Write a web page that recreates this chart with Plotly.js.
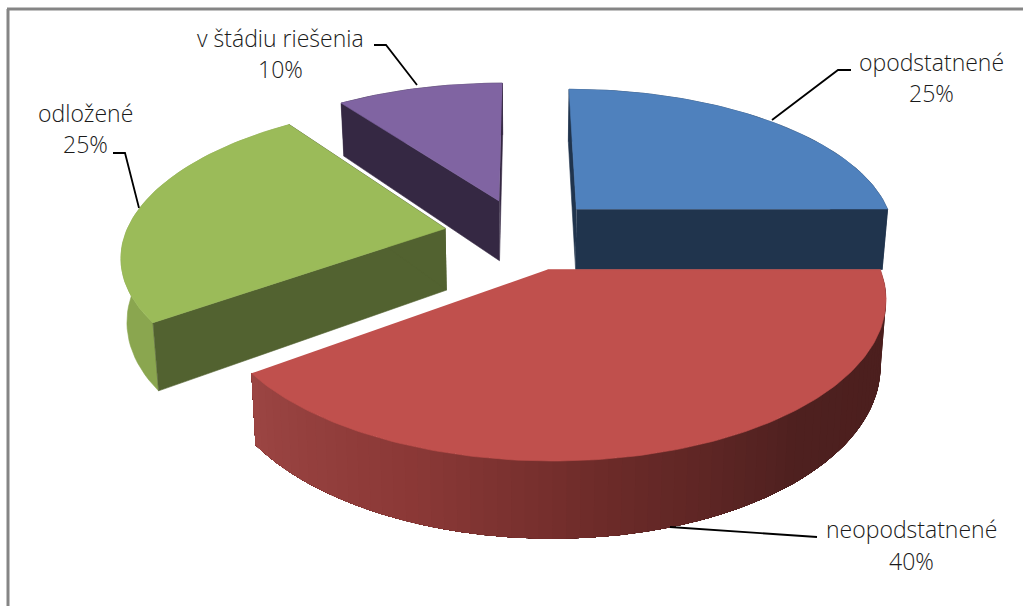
<!DOCTYPE html>
<html><head><meta charset="utf-8">
<script src="https://cdn.plot.ly/plotly-3.0.1.min.js"></script>
<style>html,body{margin:0;padding:0;background:#fff;overflow:hidden}#c{width:1023px;height:606px}</style>
</head><body><div id="c"></div><script>
const categories = ["opodstatnené","neopodstatnené","odložené","v štádiu riešenia"];
const values = [25,40,25,10];
const topColors = ["#4F81BD","#C0504D","#9BBB59","#8064A2"];
const cutColors = ["#20344D","#4E1F1E","#526230","#352843"];
const wallColors = ["#20344D",null,"#8AA64F","#352843"];
const redWallStops = [[234,[156,69,67]],[200,[138,56,54]],[170,[106,42,40]],[140,[78,32,31]],[90,[74,30,29]]];
const drawOrder = [3,2,0,1];

// perspective model of the tilted pie
const X0=522.5,Y0=234,A=320,B=147,P=0.1635,EX=0.245,D=62,K=0.015;
const rad=d=>d*Math.PI/180;
function proj(u,v,low){
  const s=1/(1+P*v);
  const k=low?1-K:1;
  return [X0+A*u*s*k, Y0-B*v*s+(low?D*s:0)];
}
const total=values.reduce((a,b)=>a+b,0);
let acc=0;
const slices=values.map((val,i)=>{
  const a0=acc/total*360; acc+=val; const a1=acc/total*360; const mid=rad((a0+a1)/2);
  return {i,a0,a1,cu:EX*Math.sin(mid),cv:EX*Math.cos(mid)};
});
const rim=(sl,th,low)=>proj(sl.cu+Math.sin(rad(th)),sl.cv+Math.cos(rad(th)),low);
const apex=(sl,low)=>proj(sl.cu,sl.cv,low);
function poly(pts,color,lw){
  return {type:'scatter',mode:'lines',x:pts.map(p=>p[0]),y:pts.map(p=>p[1]),fill:'toself',fillcolor:color,
    line:{color:color,width:lw===undefined?0.6:lw},hoverinfo:'skip',showlegend:false};
}
function redShade(th){
  for(let j=0;j<redWallStops.length-1;j++){
    const [t0,c0]=redWallStops[j],[t1,c1]=redWallStops[j+1];
    if(th<=t0&&th>=t1){const f=(t0-th)/(t0-t1);
      return 'rgb('+c0.map((c,n)=>Math.round(c+(c1[n]-c)*f)).join(',')+')';}
  }
  return 'rgb(74,30,29)';
}
const traces=[];
drawOrder.forEach(idx=>{
  const sl=slices[idx];
  const step=2;
  const cuts=[sl.a0,sl.a1].map(th=>poly([apex(sl,false),rim(sl,th,false),rim(sl,th,true),apex(sl,true)],cutColors[idx]));
  if(wallColors[idx]){
    const pts=[];
    for(let t=sl.a0;t<=sl.a1+1e-6;t+=step)pts.push(rim(sl,t,false));
    for(let t=sl.a1;t>=sl.a0-1e-6;t-=step)pts.push(rim(sl,t,true));
    traces.push(poly(pts,wallColors[idx]));
    cuts.forEach(c=>traces.push(c));
  } else {
    // gradient wall: each band runs from the far end up to its own angle, nearer bands paint over it
    for(let t=sl.a0;t<sl.a1-1e-6;t+=step){
      const pts=[];
      for(let q=t;q<=sl.a1+1e-6;q+=step)pts.push(rim(sl,q,false));
      for(let q=sl.a1;q>=t-1e-6;q-=step)pts.push(rim(sl,q,true));
      traces.push(poly(pts,redShade(t+step/2),0));
    }
  }
  const top=[apex(sl,false)];
  for(let t=sl.a0;t<=sl.a1+1e-6;t+=1)top.push(rim(sl,t,false));
  traces.push(poly(top,topColors[idx]));
});

// leader lines, one per label, same order as categories
const leaderX=[[772,838,851],[670,817],[113,125,139],[417,386,374]];
const leaderY=[[120,70,70],[527,537],[153,153,208],[85,45,45]];
leaderX.forEach((xs,i)=>{
  traces.push({type:'scatter',mode:'lines',x:xs,y:leaderY[i],line:{color:'#000',width:1.8},hoverinfo:'skip',showlegend:false});
});

const labelX=[931,911,85,280];
const labelY=[[62,93],[529,561],[113,144],[38,69]];
const font={family:'"Open Sans", Lato, sans-serif',size:23,weight:300,color:'#1a1a1a'};
const annotations=[];
categories.forEach((c,i)=>{
  [c,values[i]+'%'].forEach((t,n)=>annotations.push({text:t,x:labelX[i],y:labelY[i][n],xref:'x',yref:'y',showarrow:false,xanchor:'center',yanchor:'middle',font:font}));
});
const layout={width:1023,height:606,margin:{l:0,r:0,t:0,b:0},paper_bgcolor:'#fff',plot_bgcolor:'#fff',showlegend:false,
  xaxis:{range:[0,1023],visible:false,fixedrange:true},
  yaxis:{range:[606,0],visible:false,fixedrange:true},
  annotations:annotations,
  shapes:[
    {type:'line',xref:'x',yref:'y',x0:8,x1:8,y0:9,y1:606,line:{color:'#858585',width:3}},
    {type:'line',xref:'x',yref:'y',x0:7,x1:1023,y0:9,y1:9,line:{color:'#858585',width:3}}
  ]};
Plotly.newPlot('c',traces,layout,{staticPlot:true,displayModeBar:false});
</script></body></html>
